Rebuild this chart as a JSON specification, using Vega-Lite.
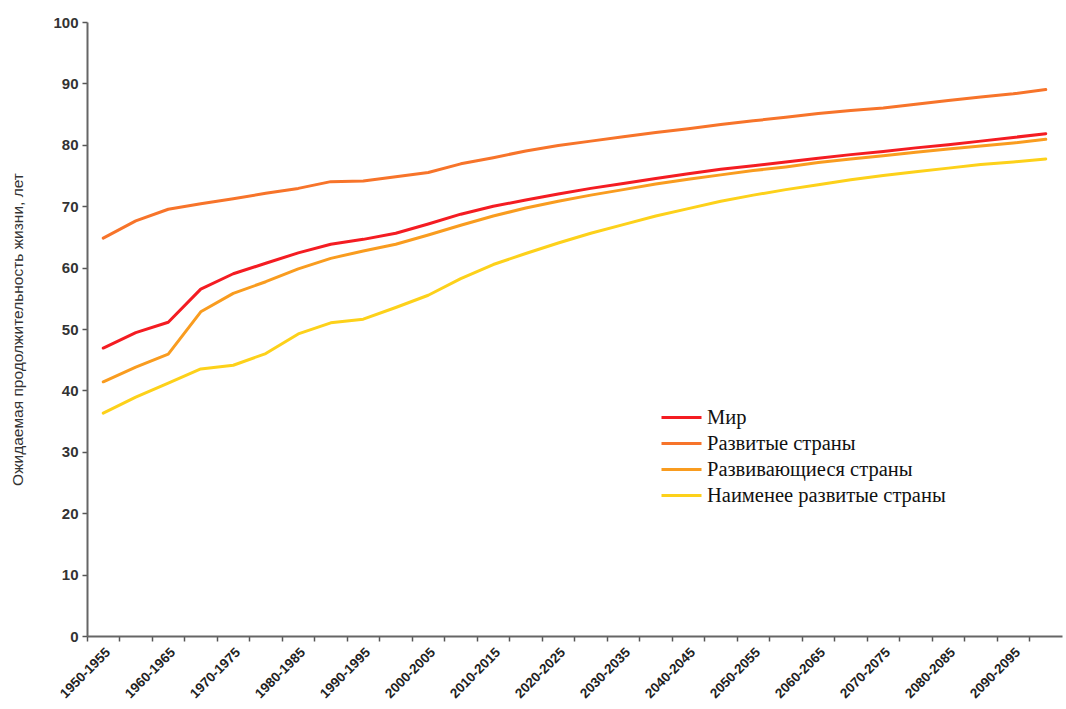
{
  "$schema": "https://vega.github.io/schema/vega-lite/v6.json",
  "autosize": "none",
  "padding": {"left": 87, "top": 22, "right": 4, "bottom": 73},
  "width": 975,
  "height": 614,
  "background": "white",
  "data": {"values": [
    {"p":"1950-1955","Мир":46.9,"Развитые страны":64.8,"Развивающиеся страны":41.4,"Наименее развитые страны":36.3},
    {"p":"1955-1960","Мир":49.4,"Развитые страны":67.6,"Развивающиеся страны":43.8,"Наименее развитые страны":38.9},
    {"p":"1960-1965","Мир":51.1,"Развитые страны":69.5,"Развивающиеся страны":45.9,"Наименее развитые страны":41.2},
    {"p":"1965-1970","Мир":56.5,"Развитые страны":70.4,"Развивающиеся страны":52.8,"Наименее развитые страны":43.5},
    {"p":"1970-1975","Мир":59.0,"Развитые страны":71.2,"Развивающиеся страны":55.8,"Наименее развитые страны":44.1},
    {"p":"1975-1980","Мир":60.7,"Развитые страны":72.1,"Развивающиеся страны":57.7,"Наименее развитые страны":46.0},
    {"p":"1980-1985","Мир":62.4,"Развитые страны":72.9,"Развивающиеся страны":59.8,"Наименее развитые страны":49.2},
    {"p":"1985-1990","Мир":63.8,"Развитые страны":74.0,"Развивающиеся страны":61.5,"Наименее развитые страны":51.0},
    {"p":"1990-1995","Мир":64.6,"Развитые страны":74.1,"Развивающиеся страны":62.7,"Наименее развитые страны":51.6},
    {"p":"1995-2000","Мир":65.6,"Развитые страны":74.8,"Развивающиеся страны":63.8,"Наименее развитые страны":53.5},
    {"p":"2000-2005","Мир":67.1,"Развитые страны":75.5,"Развивающиеся страны":65.3,"Наименее развитые страны":55.5},
    {"p":"2005-2010","Мир":68.7,"Развитые страны":76.9,"Развивающиеся страны":66.9,"Наименее развитые страны":58.2},
    {"p":"2010-2015","Мир":70.0,"Развитые страны":77.9,"Развивающиеся страны":68.4,"Наименее развитые страны":60.5},
    {"p":"2015-2020","Мир":71.0,"Развитые страны":79.0,"Развивающиеся страны":69.7,"Наименее развитые страны":62.3},
    {"p":"2020-2025","Мир":72.0,"Развитые страны":79.9,"Развивающиеся страны":70.8,"Наименее развитые страны":64.0},
    {"p":"2025-2030","Мир":72.9,"Развитые страны":80.6,"Развивающиеся страны":71.8,"Наименее развитые страны":65.6},
    {"p":"2030-2035","Мир":73.7,"Развитые страны":81.3,"Развивающиеся страны":72.7,"Наименее развитые страны":67.0},
    {"p":"2035-2040","Мир":74.5,"Развитые страны":82.0,"Развивающиеся страны":73.6,"Наименее развитые страны":68.4},
    {"p":"2040-2045","Мир":75.3,"Развитые страны":82.6,"Развивающиеся страны":74.4,"Наименее развитые страны":69.6},
    {"p":"2045-2050","Мир":76.0,"Развитые страны":83.3,"Развивающиеся страны":75.1,"Наименее развитые страны":70.8},
    {"p":"2050-2055","Мир":76.6,"Развитые страны":83.9,"Развивающиеся страны":75.8,"Наименее развитые страны":71.8},
    {"p":"2055-2060","Мир":77.2,"Развитые страны":84.5,"Развивающиеся страны":76.4,"Наименее развитые страны":72.7},
    {"p":"2060-2065","Мир":77.8,"Развитые страны":85.1,"Развивающиеся страны":77.1,"Наименее развитые страны":73.5},
    {"p":"2065-2070","Мир":78.4,"Развитые страны":85.6,"Развивающиеся страны":77.7,"Наименее развитые страны":74.3},
    {"p":"2070-2075","Мир":78.9,"Развитые страны":86.0,"Развивающиеся страны":78.2,"Наименее развитые страны":75.0},
    {"p":"2075-2080","Мир":79.5,"Развитые страны":86.6,"Развивающиеся страны":78.8,"Наименее развитые страны":75.6},
    {"p":"2080-2085","Мир":80.0,"Развитые страны":87.2,"Развивающиеся страны":79.3,"Наименее развитые страны":76.2},
    {"p":"2085-2090","Мир":80.6,"Развитые страны":87.8,"Развивающиеся страны":79.8,"Наименее развитые страны":76.8},
    {"p":"2090-2095","Мир":81.2,"Развитые страны":88.3,"Развивающиеся страны":80.3,"Наименее развитые страны":77.2},
    {"p":"2095-2100","Мир":81.8,"Развитые страны":89.0,"Развивающиеся страны":80.9,"Наименее развитые страны":77.7}
  ]},
  "transform": [
    {"fold": ["Мир","Развитые страны","Развивающиеся страны","Наименее развитые страны"], "as": ["series","value"]}
  ],
  "mark": {"type": "line", "strokeWidth": 3, "strokeCap": "round", "strokeJoin": "round"},
  "encoding": {
    "x": {
      "field": "p", "type": "ordinal", "sort": null,
      "scale": {"type": "band", "paddingInner": 0, "paddingOuter": 0},
      "axis": {
        "title": null,
        "bandPosition": 0,
        "labelAngle": -45,
        "labelAlign": "right",
        "labelBaseline": "top",
        "labelExpr": "substring(datum.value, 3, 4) == '0' ? datum.value : ''",
        "labelFont": "Liberation Sans",
        "labelFontSize": 13.5,
        "labelFontWeight": "bold",
        "labelColor": "#222",
        "labelPadding": 4,
        "labelOverlap": false,
        "tickSize": 5,
        "tickColor": "#555",
        "tickWidth": 1.5,
        "domainColor": "#666",
        "domainWidth": 2
      }
    },
    "y": {
      "field": "value", "type": "quantitative",
      "scale": {"domain": [0, 100], "nice": false, "zero": true},
      "axis": {
        "title": "Ожидаемая продолжительность жизни, лет",
        "titleFont": "Liberation Sans",
        "titleFontSize": 15.5,
        "titleFontWeight": "normal",
        "titleColor": "#333",
        "titlePadding": 27,
        "values": [0,10,20,30,40,50,60,70,80,90,100],
        "grid": false,
        "labelFont": "Liberation Sans",
        "labelFontSize": 15,
        "labelFontWeight": "bold",
        "labelColor": "#333",
        "labelPadding": 4,
        "tickSize": 5,
        "tickColor": "#555",
        "tickWidth": 1.5,
        "domainColor": "#666",
        "domainWidth": 2
      }
    },
    "color": {
      "field": "series", "type": "nominal",
      "scale": {
        "domain": ["Мир","Развитые страны","Развивающиеся страны","Наименее развитые страны"],
        "range": ["#f41c22","#f7742a","#f99c1f","#fdd11a"]
      },
      "legend": {
        "title": null,
        "orient": "none",
        "legendX": 583,
        "legendY": 384,
        "padding": 0,
        "symbolType": "M-2,0H2",
        "symbolSize": 400,
        "symbolStrokeWidth": 3,
        "labelFont": "Liberation Serif",
        "labelFontSize": 20.5,
        "labelColor": "#111",
        "labelOffset": 14,
        "rowPadding": 4,
        "labelLimit": 400
      }
    }
  },
  "config": {"view": {"stroke": null}}
}
